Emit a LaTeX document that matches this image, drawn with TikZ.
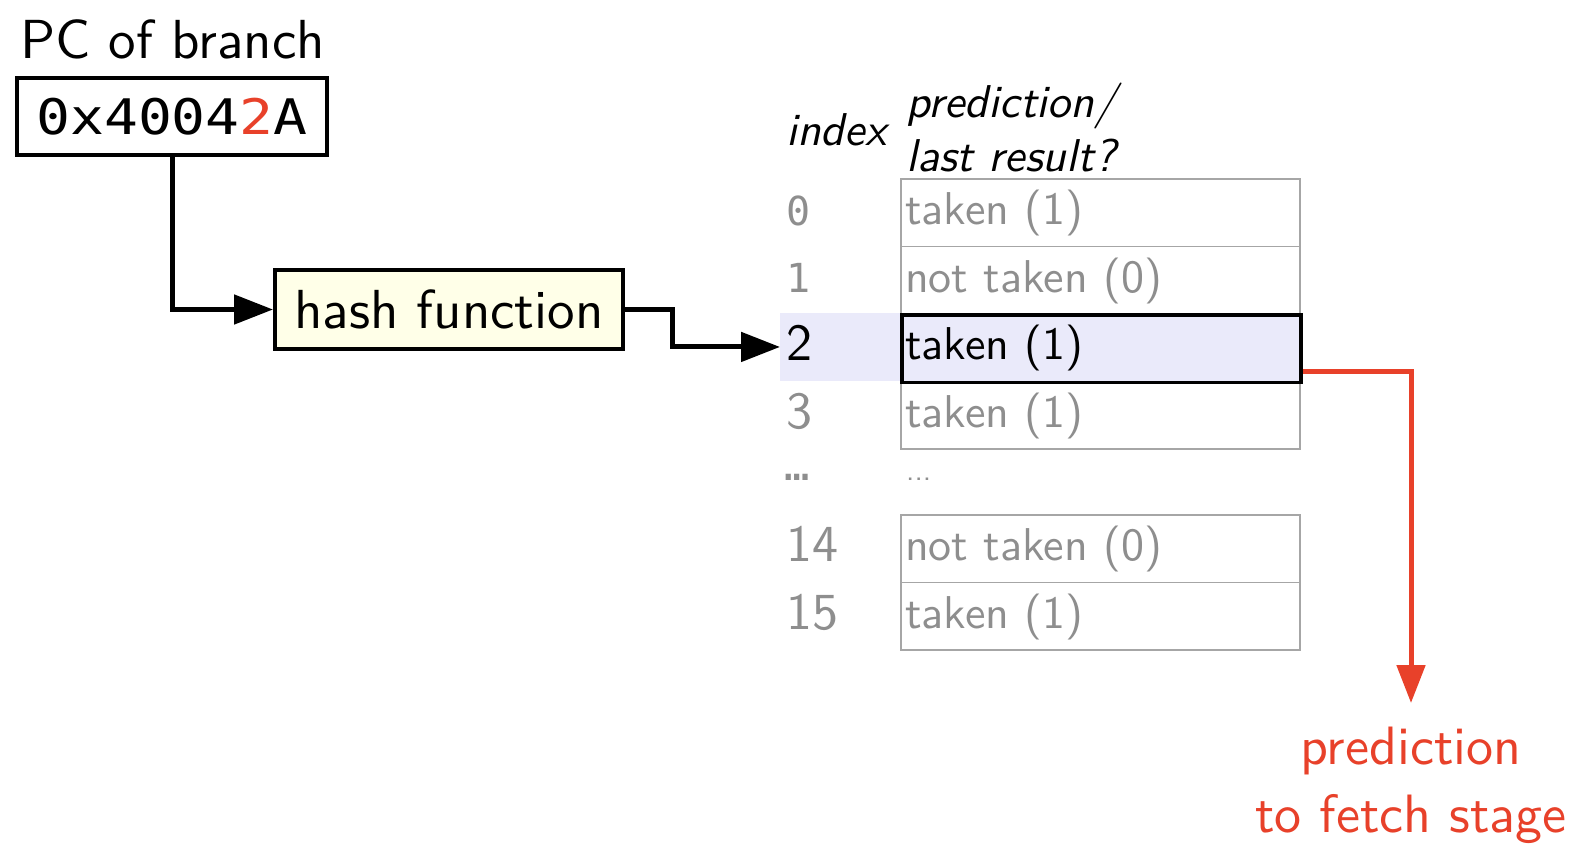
\documentclass[tikz,border=0pt]{standalone}
\usepackage{fontspec}
\usetikzlibrary{arrows.meta}
\setsansfont{lmsans10}[Extension=.otf, UprightFont=*-regular, ItalicFont=*-oblique, BoldFont=*-bold]
\newfontfamily\dmono{DejaVu Sans Mono}
\newfontfamily\pcmono[FakeStretch=1.15]{DejaVu Sans Mono}
\definecolor{redo}{HTML}{E8412A}
\definecolor{textgrey}{HTML}{8E8E8E}
\definecolor{tablegrey}{HTML}{A6A6A6}
\definecolor{hlfill}{HTML}{EAEAFA}
\definecolor{hashfill}{HTML}{FFFFE8}
\tikzset{
  lab/.style={inner sep=0pt, font=\sffamily\fontsize{55}{60}\selectfont},
  pcbox/.style={draw, line width=4pt, minimum width=310pt, minimum height=77pt, inner sep=0pt},
  hashbox/.style={draw, line width=4pt, fill=hashfill, minimum width=348pt, minimum height=79pt, inner sep=0pt, font=\sffamily\fontsize{55}{60}\selectfont},
  cellbox/.style={draw=tablegrey, line width=1.5pt, minimum width=399pt, minimum height=67.5pt, inner sep=0pt, anchor=north west},
  selbox/.style={draw=black, line width=3.5pt, fill=hlfill, minimum width=399pt, minimum height=67.5pt, inner sep=0pt, anchor=north west},
  hlbox/.style={fill=hlfill, minimum width=120pt, minimum height=67.5pt, inner sep=0pt, anchor=north west},
  celltext/.style={anchor=base west, inner sep=0pt, text=textgrey, font=\sffamily\fontsize{46}{50}\selectfont},
  idxmono/.style={anchor=base west, inner sep=0pt, text=textgrey, font=\dmono\fontsize{40}{44}\selectfont},
  idxsans/.style={anchor=base west, inner sep=0pt, text=textgrey, font=\sffamily\fontsize{52}{56}\selectfont},
  head/.style={anchor=base west, inner sep=0pt, font=\sffamily\itshape\fontsize{46}{50}\selectfont},
  outtext/.style={inner sep=0pt, align=center, text=redo, font=\sffamily\fontsize{54}{68}\selectfont},
  conn/.style={line width=5pt, -{Triangle[length=39pt,width=29pt]}},
  redconn/.style={draw=redo, line width=5pt, -{Triangle[length=38pt,width=28pt]}},
}
\begin{document}
\begin{tikzpicture}[x=1pt,y=-1pt]
\useasboundingbox[fill=white] (0,0) rectangle (1596,854);

% PC of branch
\node[lab, anchor=base west] (pclab) at (20,58) {PC of branch};
\node[pcbox] (pc) at (172,116.5) {\pcmono\fontsize{49}{55}\selectfont 0x4004\textcolor{redo}{2}A};

% hash function
\node[hashbox] (hash) at (449,309.5) {hash function};

% table headers
\node[head] (hidx) at (786,145) {index};
\node[head] (hpred) at (906,117) {prediction/};
\node[head] (hlast) at (906,171) {last result?};

% highlight of index 2
\node[hlbox] (hl) at (780,313) {};

% table cells
\node[cellbox] (c0) at (900,178) {};
\node[cellbox] (c1) at (900,245.5) {};
\node[cellbox] (c3) at (900,380.5) {};
\node[cellbox] (c14) at (900,514) {};
\node[cellbox] (c15) at (900,581.5) {};
\node[selbox] (c2) at (900,313) {};

% cell texts
\node[celltext] (t0) at (905,224.5) {taken (1)};
\node[celltext] (t1) at (905,292) {not taken (0)};
\node[celltext, text=black] (t2) at (905,359.5) {taken (1)};
\node[celltext] (t3) at (905,427) {taken (1)};
\node[celltext, font=\sffamily\fontsize{30}{34}\selectfont] (tdots) at (906,480) {...};
\node[celltext] (t14) at (905,560.5) {not taken (0)};
\node[celltext] (t15) at (905,628) {taken (1)};

% index numbers
\node[idxmono] (i0) at (786,225) {0};
\node[idxmono] (i1) at (786,292.5) {1};
\node[idxsans, text=black] (i2) at (786,360.5) {2};
\node[idxsans] (i3) at (786,428) {3};
\node[idxmono, font=\dmono\fontsize{42}{44}\selectfont] (idots) at (784,480) {…};
\node[idxsans] (i14) at (786,561.5) {14};
\node[idxsans] (i15) at (786,629) {15};

% output label
\node[outtext, anchor=north] (out) at (1411,727) {prediction\\to fetch stage};

% connectors
\draw[conn] (pc.south) |- (hash.west);
\draw[conn] (hash.east) -- ++(47,0) |- (hl.west);
\draw[redconn] ([yshift=-23pt]c2.east) -| ([yshift=24pt]out.north);
\end{tikzpicture}
\end{document}
